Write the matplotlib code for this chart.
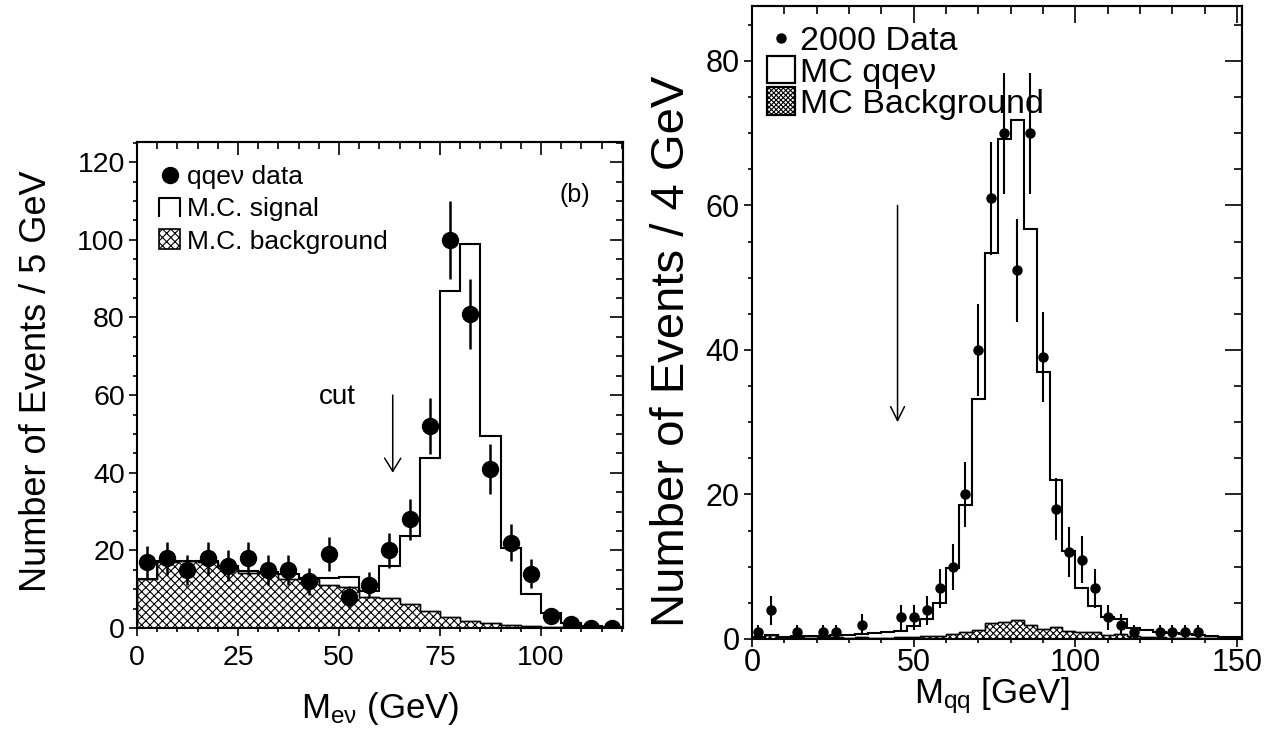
import numpy as np
import matplotlib
matplotlib.use("Agg")
import matplotlib.pyplot as plt
from matplotlib.ticker import MultipleLocator
from matplotlib.patches import Rectangle
from matplotlib.lines import Line2D

plt.rcParams['font.family'] = ['Liberation Sans', 'DejaVu Sans']
plt.rcParams['mathtext.fontset'] = 'custom'
plt.rcParams['mathtext.rm'] = 'Liberation Sans'
plt.rcParams['mathtext.it'] = 'Liberation Sans:italic'
plt.rcParams['hatch.linewidth'] = 0.8

# ---------------- panel (b): M_ev, 5 GeV bins ----------------
mev_edges = np.arange(0, 125, 5)
mev_data = [17, 18, 15, 18, 16, 18, 15, 15, 12, 19, 8, 11,
            20, 28, 52, 100, 81, 41, 22, 14, 3, 1, 0, 0]
mev_mc_total = [12.5, 17.3, 17.3, 17.3, 16.0, 14.6, 14.5, 13.9, 12.8, 12.8, 13.2, 9.5,
                16.0, 23.7, 43.7, 86.8, 99.0, 49.4, 20.5, 8.7, 3.9, 1.4, 0.5, 0.2]
mev_mc_bkg = [12.5, 17.0, 17.2, 17.0, 15.4, 14.2, 14.2, 12.5, 12.5, 11.2, 10.6, 7.9,
              7.6, 6.2, 4.5, 2.9, 1.9, 1.2, 0.8, 0.5, 0.3, 0.2, 0.15, 0.1]
mev_cut = 63.3

# ---------------- right panel: M_qq, 4 GeV bins ----------------
mqq_edges = np.arange(0, 156, 4)
mqq_data = [1, 4, 0, 1, 0, 1, 1, 0, 2, 0, 0, 3, 3, 4, 7, 10, 20, 40, 61, 70,
            51, 70, 39, 18, 12, 11, 7, 3, 2, 1, 0, 1, 1, 1, 1, 0, 0, 0]
mqq_mc_total = [0.3, 0.6, 0.3, 0.4, 0.4, 0.4, 0.5, 0.6, 0.7, 0.8, 0.9, 1.1, 1.8, 2.8,
                5.0, 9.8, 18.6, 33.2, 53.4, 69.2, 71.8, 56.7, 37.0, 22.0, 12.2, 7.0,
                4.6, 3.1, 2.7, 1.5, 1.2, 0.9, 0.8, 0.7, 0.5, 0.4, 0.3, 0.3]
mqq_mc_bkg = [0.3, 0.5, 0.2, 0.3, 0.2, 0.3, 0.3, 0.2, 0.3, 0.2, 0.2, 0.3, 0.3, 0.4,
              0.4, 0.7, 1.0, 1.3, 2.2, 2.3, 2.6, 2.0, 1.4, 1.6, 1.1, 0.9, 0.9, 0.6,
              0.7, 0.4, 0.3, 0.3, 0.2, 0.2, 0.2, 0.1, 0.1, 0.1]
mqq_cut = 45

W, H = 1273, 734
fig = plt.figure(figsize=(W / 100, H / 100), dpi=100)
axL = fig.add_axes([137 / W, (H - 628) / H, 486 / W, 486 / H])
axR = fig.add_axes([752 / W, (H - 639) / H, 490 / W, 633 / H])


def frame(ax, xmaj, xmin, ymaj, ymin, in_major, in_minor, labelsize, xpad, ypad):
    for sp in ax.spines.values():
        sp.set_linewidth(1.5)
    ax.xaxis.set_major_locator(MultipleLocator(xmaj))
    ax.xaxis.set_minor_locator(MultipleLocator(xmin))
    ax.yaxis.set_major_locator(MultipleLocator(ymaj))
    ax.yaxis.set_minor_locator(MultipleLocator(ymin))
    ax.tick_params(which='major', direction='out', length=5.8, width=1.2,
                   labelsize=labelsize, top=False, right=False)
    ax.tick_params(axis='x', which='major', pad=xpad)
    ax.tick_params(axis='y', which='major', pad=ypad)
    ax.tick_params(which='minor', direction='out', length=2.9, width=1.2,
                   top=False, right=False)
    top = ax.secondary_xaxis('top')
    right = ax.secondary_yaxis('right')
    for sec, axis in ((top, top.xaxis), (right, right.yaxis)):
        axis.set_major_locator(MultipleLocator(xmaj if sec is top else ymaj))
        axis.set_minor_locator(MultipleLocator(xmin if sec is top else ymin))
        sec.tick_params(which='major', direction='in', length=in_major, width=1.2,
                        labeltop=False, labelright=False)
        sec.tick_params(which='minor', direction='in', length=in_minor, width=1.2)
        for sp in sec.spines.values():
            sp.set_linewidth(1.5)


def draw_panel(ax, edges, data, total, bkg, ms, elw, keep_zero, hatch):
    edges = np.asarray(edges, dtype=float)
    centers = 0.5 * (edges[:-1] + edges[1:])
    data = np.asarray(data, dtype=float)
    ax.stairs(bkg, edges, fill=True, facecolor='white', edgecolor='black',
              hatch=hatch, linewidth=1.0, zorder=2)
    ax.stairs(bkg, edges, color='black', linewidth=1.0, zorder=2.5)
    ax.stairs(total, edges, color='black', linewidth=1.5, zorder=3)
    sel = np.ones_like(data, dtype=bool) if keep_zero else data > 0
    ax.errorbar(centers[sel], data[sel], yerr=np.sqrt(data[sel]), fmt='o',
                color='black', ms=ms, elinewidth=elw, capsize=0, zorder=4)


# ---- left panel ----
draw_panel(axL, mev_edges, mev_data, mev_mc_total, mev_mc_bkg, 11.5, 1.8, True,
           'xxxx')
axL.set_xlim(0, 120.3)
axL.set_ylim(0, 125.2)
frame(axL, 25, 5, 20, 5, 9.5, 4.7, 20.5, 6.5, 3)
axL.set_ylabel('Number of Events / 5 GeV', fontsize=26, va='center')
axL.yaxis.set_label_coords(-0.206, 0.508)
axL.set_xlabel(r'M$_{\mathrm{e\nu}}$ (GeV)', fontsize=25, va='center')
axL.xaxis.set_label_coords(0.5, -0.165)

axL.annotate('', xy=(mev_cut, 40), xytext=(mev_cut, 60),
             arrowprops=dict(arrowstyle='->,head_length=0.94,head_width=0.58',
                             color='black', lw=1.1, shrinkA=0, shrinkB=0,
                             mutation_scale=10))
axL.text(49.6, 59.5, 'cut', fontsize=20, ha='center', va='center')
axL.text(108.4, 111.5, '(b)', fontsize=18, ha='center', va='center')

# legend (axes coordinates)
tL = axL.transAxes
axL.add_line(Line2D([0.068], [0.932], marker='o', ms=11.5, color='black',
                    transform=tL))
axL.text(0.103, 0.9136, 'qqeν data', fontsize=19, transform=tL, va='baseline')
bx0, bx1 = (159.3 - 137) / 486, (180 - 137) / 486
axL.add_line(Line2D([bx0, bx0, bx1, bx1],
                    [(628 - 215.7) / 486, (628 - 198.3) / 486,
                     (628 - 198.3) / 486, (628 - 215.7) / 486],
                    color='black', lw=1.5, transform=tL))
axL.text(0.103, 0.848, 'M.C. signal', fontsize=19, transform=tL, va='baseline')
axL.add_patch(Rectangle((bx0, (628 - 249) / 486), bx1 - bx0, 19.7 / 486,
                        transform=tL, facecolor='white', edgecolor='black',
                        hatch='xxxx', lw=1.2))
axL.text(0.103, 0.7804, 'M.C. background', fontsize=19, transform=tL, va='baseline')

# ---- right panel ----
draw_panel(axR, mqq_edges, mqq_data, mqq_mc_total, mqq_mc_bkg, 6.5, 1.5, False,
           'xxxxx')
axR.set_xlim(0, 151.5)
axR.set_ylim(0, 87.6)
frame(axR, 50, 10, 20, 5, 12, 6, 22, 0.5, 3)
axR.set_ylabel('Number of Events / 4 GeV', fontsize=34, va='center')
axR.yaxis.set_label_coords(-0.163, 0.455)
axR.set_xlabel(r'M$_{\mathrm{qq}}$ [GeV]', fontsize=25, va='center')
axR.xaxis.set_label_coords(0.49, -0.09)

axR.annotate('', xy=(mqq_cut, 30), xytext=(mqq_cut, 60),
             arrowprops=dict(arrowstyle='->,head_length=1.0,head_width=0.5',
                             color='black', lw=1.1, shrinkA=0, shrinkB=0,
                             mutation_scale=10))

tR = axR.transAxes
axR.add_line(Line2D([(781 - 752) / 490], [(639 - 38) / 633], marker='o', ms=6.5,
                    color='black', transform=tR))
axR.text((800 - 752) / 490, (639 - 50) / 633, '2000 Data', fontsize=24.5,
         transform=tR, va='baseline')
rx0, rw = (766.7 - 752) / 490, 28.3 / 490
axR.add_patch(Rectangle((rx0, (639 - 83.3) / 633), rw, 27.3 / 633, transform=tR,
                        facecolor='white', edgecolor='black', lw=1.6))
axR.text((800 - 752) / 490, (639 - 81.7) / 633, 'MC qqeν', fontsize=24.5,
         transform=tR, va='baseline')
axR.add_patch(Rectangle((rx0, (639 - 115) / 633), rw, 27.7 / 633, transform=tR,
                        facecolor='white', edgecolor='black', hatch='xxxxxxx',
                        lw=1.6))
axR.text((800 - 752) / 490, (639 - 113.3) / 633, 'MC Background', fontsize=24.5,
         transform=tR, va='baseline')

fig.savefig('out.png', dpi=100)
